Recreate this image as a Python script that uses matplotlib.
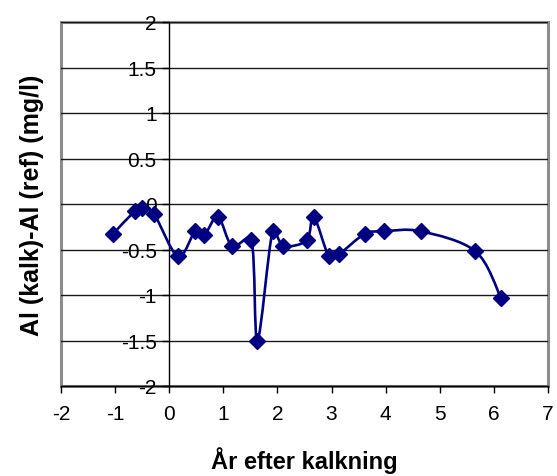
import numpy as np
import matplotlib.pyplot as plt
from matplotlib.path import Path
from matplotlib.patches import PathPatch

plt.rcParams['font.family'] = ['Liberation Sans', 'DejaVu Sans']
plt.rcParams['axes.unicode_minus'] = False

# years relative to liming, and Al difference limed - reference (mg/l)
years = [-1.04, -0.64, -0.50, -0.28, 0.16, 0.48, 0.65, 0.90, 1.16, 1.52, 1.63,
         1.91, 2.11, 2.54, 2.67, 2.95, 3.14, 3.61, 3.97, 4.65, 5.66, 6.13]
al_diff = [-0.33, -0.08, -0.04, -0.11, -0.575, -0.30, -0.34, -0.14, -0.46, -0.40, -1.50,
           -0.30, -0.46, -0.40, -0.14, -0.575, -0.55, -0.33, -0.30, -0.30, -0.52, -1.03]

x_ticks = list(range(-2, 8))
y_ticks = [-2, -1.5, -1, -0.5, 0, 0.5, 1, 1.5, 2]

navy = '#000080'


def smooth_path(ax, x, y, k=1.0 / 6):
    # spreadsheet-style smoothing: Bezier arms of 1/6 of the neighbour chord,
    # capped at half the segment length (measured on screen)
    pts = np.column_stack([x, y]).astype(float)
    scr = ax.transData.transform(pts)
    n = len(pts)
    verts = [pts[0]]
    codes = [Path.MOVETO]
    for i in range(n - 1):
        i0, i3 = max(i - 1, 0), min(i + 2, n - 1)
        d12 = np.hypot(*(scr[i + 1] - scr[i]))
        d02 = np.hypot(*(scr[i + 1] - scr[i0]))
        d13 = np.hypot(*(scr[i3] - scr[i]))
        f1 = min(k, d12 / (2 * d02)) if d02 > 0 else 0
        f2 = min(k, d12 / (2 * d13)) if d13 > 0 else 0
        verts += [pts[i] + (pts[i + 1] - pts[i0]) * f1,
                  pts[i + 1] - (pts[i3] - pts[i]) * f2,
                  pts[i + 1]]
        codes += [Path.CURVE4] * 3
    return Path(verts, codes)


fig = plt.figure(figsize=(5.57, 4.77), dpi=100)
ax = fig.add_axes([61 / 557, 1 - 387 / 477, 487 / 557, 364 / 477])
ax.set_xlim(x_ticks[0], x_ticks[-1])
ax.set_ylim(y_ticks[0], y_ticks[-1])

# gray plot-area frame, value axis crossing at x = 0
ax.patch.set_edgecolor('#8c8c8c')
ax.patch.set_linewidth(2.2)
for side in ['top', 'right']:
    ax.spines[side].set_visible(False)
ax.spines['left'].set_position(('data', 0))
for side in ['left', 'bottom']:
    ax.spines[side].set_color('black')
    ax.spines[side].set_linewidth(1)

ax.set_xticks(x_ticks)
ax.set_yticks(y_ticks)
ax.set_yticklabels(['%g' % v for v in y_ticks])
ax.yaxis.grid(True, color='#1a1a1a', linewidth=1)
ax.set_axisbelow(True)
ax.tick_params(axis='both', direction='out', length=5, width=1, colors='black', labelsize=15)
ax.tick_params(axis='x', pad=8)
ax.tick_params(axis='y', pad=4)

ax.add_patch(PathPatch(smooth_path(ax, years, al_diff), fill=False, edgecolor=navy,
                       linewidth=1.9, zorder=3))
ax.plot(years, al_diff, linestyle='none', marker='D', markersize=8.5, color=navy, zorder=4)

ax.set_xlabel('År efter kalkning', fontsize=17, fontweight='bold')
ax.set_ylabel('Al (kalk)-Al (ref) (mg/l)', fontsize=18, fontweight='bold')
ax.xaxis.set_label_coords(0.5, -0.165)
ax.yaxis.set_label_coords(-0.035, 0.5)

fig.savefig('out.png', dpi=100)
